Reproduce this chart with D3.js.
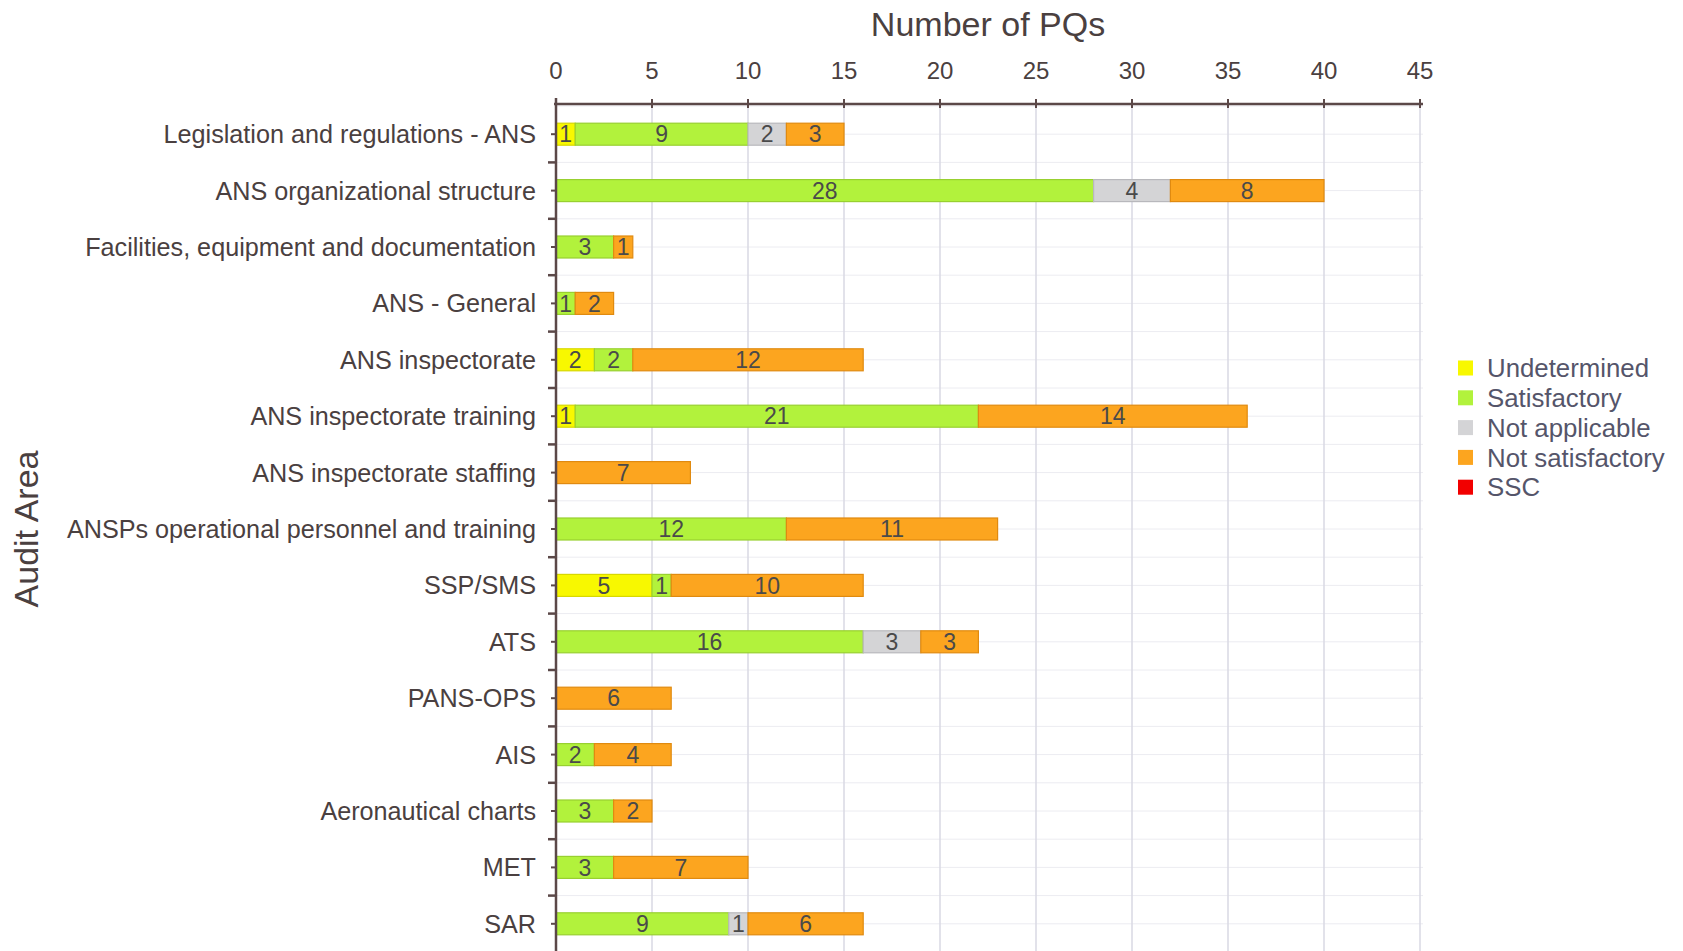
<!DOCTYPE html>
<meta charset="UTF-8">
<style>
    body { margin: 0; background: #fff; }
    text { font-family: "Liberation Sans", Arial, sans-serif; }
    .grid-v { stroke: #d9d9e3; stroke-width: 1.5px; }
    .grid-h { stroke: #ececf1; stroke-width: 1px; }
    .axis-line { stroke: #5b4848; stroke-width: 2.5px; fill: none; }
    .tick { stroke: #5b4848; stroke-width: 2px; }
    .lbl { fill: #4a4040; }
    .seg text { fill: #4a4a4a; }
</style>

<body>
<script src="https://d3js.org/d3.v7.min.js"></script>
<script>

// audit areas, top to bottom
var areas = [
  "Legislation and regulations - ANS",
  "ANS organizational structure",
  "Facilities, equipment and documentation",
  "ANS - General",
  "ANS inspectorate",
  "ANS inspectorate training",
  "ANS inspectorate staffing",
  "ANSPs operational personnel and training",
  "SSP/SMS",
  "ATS",
  "PANS-OPS",
  "AIS",
  "Aeronautical charts",
  "MET",
  "SAR"
];

var seriesNames = ["Undetermined", "Satisfactory", "Not applicable", "Not satisfactory", "SSC"];
var seriesColors = ["#f8f800", "#b2f23c", "#d4d4d6", "#fca51f", "#f20000"];
var seriesStroke = ["#d8d800", "#98d030", "#b8b8bc", "#e08a10", "#c00000"];

var undetermined    = [1, 0, 0, 0, 2, 1, 0, 0, 5, 0, 0, 0, 0, 0, 0];
var satisfactory    = [9, 28, 3, 1, 2, 21, 0, 12, 1, 16, 0, 2, 3, 3, 9];
var notApplicable   = [2, 4, 0, 0, 0, 0, 0, 0, 0, 3, 0, 0, 0, 0, 1];
var notSatisfactory = [3, 8, 1, 2, 12, 14, 7, 11, 10, 3, 6, 4, 2, 7, 6];
var ssc             = [0, 0, 0, 0, 0, 0, 0, 0, 0, 0, 0, 0, 0, 0, 0];

var xTicks = [0, 5, 10, 15, 20, 25, 30, 35, 40, 45];

var width = 1683, height = 951;
var plot = {left: 556, right: 1420, top: 104, bottom: 952};

var svg = d3.select("body").append("svg")
    .attr("width", width)
    .attr("height", height);

var x = d3.scaleLinear().domain([0, 45]).range([plot.left, plot.right]);
var y = d3.scaleBand().domain(areas).range([plot.top + 2, plot.bottom]);
var step = y.step();
var barH = step * 0.39;

// build rows for the stack
var table = areas.map(function(a, i) {
  return {
    area: a,
    "Undetermined": undetermined[i],
    "Satisfactory": satisfactory[i],
    "Not applicable": notApplicable[i],
    "Not satisfactory": notSatisfactory[i],
    "SSC": ssc[i]
  };
});
var stack = d3.stack().keys(seriesNames)(table);

// ---- grid ----
var halfLines = d3.range(areas.length * 2).map(function(k) { return y.range()[0] + k * step / 2; });
svg.selectAll("line.grid-h").data(halfLines).enter().append("line")
    .attr("class", "grid-h")
    .attr("x1", plot.left).attr("x2", plot.right + 3)
    .attr("y1", function(d) { return d; }).attr("y2", function(d) { return d; });

svg.selectAll("line.grid-v").data(xTicks.slice(1)).enter().append("line")
    .attr("class", "grid-v")
    .attr("x1", function(d) { return x(d); }).attr("x2", function(d) { return x(d); })
    .attr("y1", plot.top).attr("y2", height);

// ---- bars ----
var layer = svg.selectAll("g.layer").data(stack).enter().append("g")
    .attr("class", "layer");

var seg = layer.selectAll("g.seg")
    .data(function(s, si) {
      return s.map(function(d) { return {s: si, x0: d[0], x1: d[1], area: d.data.area}; })
              .filter(function(d) { return d.x1 > d.x0; });
    })
    .enter().append("g").attr("class", "seg");

seg.append("rect")
    .attr("x", function(d) { return x(d.x0); })
    .attr("y", function(d) { return y(d.area) + step / 2 - barH / 2; })
    .attr("width", function(d) { return x(d.x1) - x(d.x0); })
    .attr("height", barH)
    .style("fill", function(d) { return seriesColors[d.s]; })
    .style("stroke", function(d) { return seriesStroke[d.s]; })
    .style("stroke-width", 1.2);

seg.append("text")
    .attr("x", function(d) { return (x(d.x0) + x(d.x1)) / 2; })
    .attr("y", function(d) { return y(d.area) + step / 2; })
    .attr("dy", "0.36em")
    .attr("text-anchor", "middle")
    .style("font-size", "23px")
    .text(function(d) { return d.x1 - d.x0; });

// ---- top axis ----
svg.append("line").attr("class", "axis-line")
    .attr("x1", plot.left - 2).attr("x2", plot.right + 3)
    .attr("y1", plot.top).attr("y2", plot.top);

svg.selectAll("line.xtick").data(xTicks).enter().append("line")
    .attr("class", "tick")
    .attr("x1", function(d) { return x(d); }).attr("x2", function(d) { return x(d); })
    .attr("y1", plot.top - 5).attr("y2", plot.top + 4);

svg.selectAll("text.xlbl").data(xTicks).enter().append("text")
    .attr("class", "lbl")
    .attr("x", function(d) { return x(d); })
    .attr("y", 79)
    .attr("text-anchor", "middle")
    .style("font-size", "24px")
    .text(function(d) { return d; });

svg.append("text").attr("class", "lbl")
    .attr("x", (plot.left + plot.right) / 2)
    .attr("y", 36)
    .attr("text-anchor", "middle")
    .style("font-size", "34px")
    .text("Number of PQs");

// ---- left axis ----
svg.append("line").attr("class", "axis-line")
    .attr("x1", plot.left).attr("x2", plot.left)
    .attr("y1", plot.top - 6).attr("y2", height);

// short ticks at band centres
svg.selectAll("line.ytick").data(areas).enter().append("line")
    .attr("class", "tick")
    .attr("x1", plot.left - 5).attr("x2", plot.left)
    .attr("y1", function(d) { return y(d) + step / 2; })
    .attr("y2", function(d) { return y(d) + step / 2; });

// longer ticks at band edges
svg.selectAll("line.yedge").data(areas.slice(1)).enter().append("line")
    .attr("class", "tick")
    .style("stroke-width", 2.5)
    .attr("x1", plot.left - 8).attr("x2", plot.left)
    .attr("y1", function(d) { return y(d); })
    .attr("y2", function(d) { return y(d); });

svg.selectAll("text.ylbl").data(areas).enter().append("text")
    .attr("class", "lbl")
    .attr("x", plot.left - 20)
    .attr("y", function(d) { return y(d) + step / 2; })
    .attr("dy", "0.36em")
    .attr("text-anchor", "end")
    .style("font-size", "25.2px")
    .text(function(d) { return d; });

svg.append("text").attr("class", "lbl")
    .attr("transform", "translate(38,529) rotate(-90)")
    .attr("text-anchor", "middle")
    .style("font-size", "34px")
    .text("Audit Area");

// ---- legend ----
var legend = svg.selectAll("g.legend").data(seriesNames).enter().append("g")
    .attr("transform", function(d, i) { return "translate(1458," + (368 + i * 29.8) + ")"; });

legend.append("rect")
    .attr("x", 0).attr("y", -7.5)
    .attr("width", 15).attr("height", 15)
    .style("fill", function(d, i) { return seriesColors[i]; });

legend.append("text")
    .attr("x", 29)
    .attr("dy", "0.36em")
    .style("font-size", "25.8px")
    .style("fill", "#55556a")
    .text(function(d) { return d; });

</script>
</body>
